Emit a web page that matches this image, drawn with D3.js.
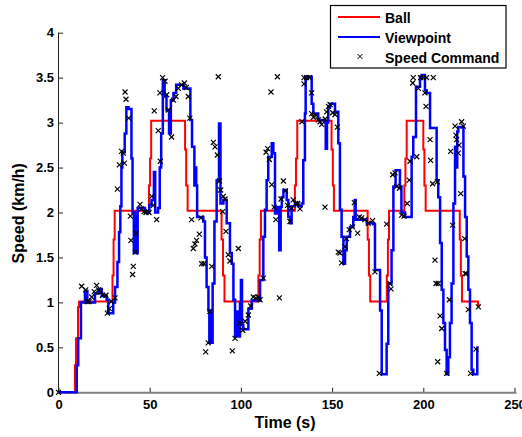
<!DOCTYPE html>
<html>
<head>
<meta charset="utf-8">
<script src="https://cdn.jsdelivr.net/npm/d3@7"></script>
<style>
  body { margin: 0; background: #fff; }
  svg { display: block; font-family: Arial, "Liberation Sans", sans-serif; font-weight: bold; }
</style>
</head>
<body>
<svg id="chart" width="522" height="437"></svg>
<script>
// Ball speed (step values, held from each time on)
const ballT = [0, 9.0, 9.6, 10.7, 11.3, 29.6, 30.2, 30.8, 49.6, 50.2, 50.8, 69.4, 70.0, 70.8, 89.4, 90.2, 91.0,
  109.6, 110.3, 111.0, 129.6, 130.2, 130.9, 149.7, 150.4, 151.0, 169.5, 170.2, 170.9, 180.0, 180.6, 181.2,
  189.6, 190.2, 190.9, 200.0, 200.6, 201.3, 220.0, 220.6, 221.2, 230.0, 230.4];
const ballV = [0, 0.3, 0.6, 0.95, 1.01, 1.3, 1.7, 2.02, 2.3, 2.6, 3.02, 2.7, 2.3, 2.02, 1.7, 1.3, 1.01,
  1.3, 1.7, 2.02, 2.3, 2.6, 3.02, 2.7, 2.3, 2.02, 1.7, 1.3, 1.01, 1.3, 1.7, 2.02,
  2.3, 2.6, 3.02, 2.7, 2.3, 2.02, 1.7, 1.3, 1.01, 0.97, 0.95];

// Viewpoint speed (step values)
const viewT = [0, 10.0, 10.8, 12.3, 14.5, 15.8, 20.0, 22.0, 23.7, 26.4, 27.3, 30.0, 31.0, 32.3, 33.2, 33.9, 34.5, 35.0,
  36.3, 37.2, 38.4, 40.0, 40.6, 41.3, 42.0, 42.5, 43.4, 47.4, 49.8, 51.0, 52.3, 53.0, 54.6, 55.5, 56.3, 57.2,
  58.2, 59.2, 60.6, 61.6, 63.0, 64.5, 68.5, 72.3, 73.2, 74.5, 75.0, 75.5, 76.0, 79.4, 80.3, 81.2, 82.2, 82.7,
  83.3, 83.7, 84.5, 85.5, 86.7, 88.0, 88.8, 90.4, 92.2, 94.0, 95.0, 95.9, 96.8, 97.7, 98.3, 99.5, 100.0, 100.6,
  101.3, 104.1, 105.9, 110.5, 112.3, 113.2, 114.1, 115.0, 116.9, 117.8, 118.7, 119.6, 121.0, 121.8, 122.4,
  123.3, 125.1, 126.0, 127.0, 127.8, 129.7, 131.5, 133.3, 134.2, 135.1, 135.5, 138.8, 139.7, 142.4, 146.1,
  146.5, 147.2, 147.9, 148.8, 151.6, 153.4, 154.3, 155.2, 156.2, 157.1, 158.0, 159.8, 161.6, 162.4, 162.9,
  169.0, 172.6, 173.5, 176.3, 177.2, 179.9, 180.8, 182.6, 183.6, 184.8, 187.2, 188.0, 190.0, 193.6, 194.5,
  196.0, 198.2, 199.1, 200.9, 201.8, 203.7, 207.3, 208.2, 209.2, 210.1, 211.0, 211.9, 212.8, 213.7, 214.6,
  215.5, 216.5, 217.4, 218.0, 218.6, 219.2, 222.0, 222.9, 223.8, 224.7, 225.6, 226.5, 227.4, 229.6];
const viewV = [0, 0.3, 0.6, 1.0, 1.13, 1.0, 1.1, 1.15, 1.07, 1.03, 0.88, 1.0, 1.17, 1.45, 1.78, 2.07, 2.5, 2.67,
  2.88, 3.17, 3.15, 2.6, 2.0, 1.55, 2.0, 1.55, 2.05, 2.0, 2.08, 2.14, 2.45, 2.0, 2.05, 2.5, 2.88, 3.47,
  3.29, 3.14, 2.88, 3.25, 3.33, 3.42, 3.38, 3.03, 2.73, 2.3, 2.5, 2.3, 1.95, 1.9, 1.5, 1.17, 0.91, 0.55,
  0.91, 0.55, 1.21, 1.9, 2.36, 2.99, 2.1, 2.14, 1.88, 1.55, 1.43, 1.03, 0.62, 0.9, 0.62, 1.0, 1.25, 0.75,
  0.7, 0.93, 1.02, 1.25, 1.73, 2.03, 2.36, 2.62, 2.77, 2.66, 1.99, 2.06, 1.58, 2.06, 2.17,
  2.25, 2.14, 1.95, 1.88, 2.07, 2.1, 2.07, 2.1, 2.58, 3.1, 3.51, 3.21, 3.1, 3.03, 3.0,
  2.71, 3.0, 3.17, 3.21, 3.12, 2.77, 2.03, 1.73, 1.43, 1.58, 1.73, 1.84, 1.95, 2.14, 1.92,
  1.88, 1.87, 1.36, 0.91, 0.2, 0.54, 1.21, 1.58, 2.29, 2.47, 2.29, 2.0, 1.95, 2.62, 2.84,
  3.4, 3.51, 3.53, 3.36, 3.33, 2.94, 2.36, 2.17, 1.66, 1.14, 0.77, 0.47, 0.2, 0.39, 0.77,
  1.21, 2.1, 2.73, 2.5, 2.9, 2.95, 2.4, 1.95, 1.51, 1.14, 0.77, 0.25, 0.2, 0.51];

// Speed commands (x markers)
const cmdT = [0, 12.7, 14.9, 15.8, 16.7, 18.2, 19.6, 20.9, 22.0, 23.0, 24.2, 26.0, 26.8, 27.9, 29.0, 31.0,
  32.3, 33.4, 34.6, 35.5, 36.1, 36.5, 37.0, 38.5, 39.4, 39.7, 41.0, 40.6, 42.5, 42.1, 44.7, 45.6, 46.9, 48.0,
  49.6, 51.1, 52.0, 52.5, 53.8, 54.7, 55.8, 55.6, 57.1, 58.4, 59.3, 60.2, 62.0, 63.0, 64.4, 65.7, 67.5, 69.0,
  70.0, 71.2, 72.0, 73.0, 73.9, 74.8, 75.7, 77.2, 78.1, 78.5, 79.8, 84.0, 80.7, 82.1, 83.0, 84.9, 85.8, 87.1,
  87.6, 88.2, 88.9, 90.4, 91.3, 90.0, 91.8, 93.1, 94.0, 95.3, 96.8, 98.6, 99.5, 101.0, 102.3, 104.1, 105.4,
  106.8, 108.2, 109.6, 110.5, 112.3, 113.8, 114.7, 115.6, 116.5, 116.9, 118.2, 119.2, 120.0, 121.1, 122.0,
  123.3, 124.4, 125.6, 126.9, 127.8, 128.7, 130.0, 131.1, 132.4, 133.5, 134.6, 134.6, 136.0, 137.5, 138.8,
  138.8, 139.8, 141.2, 142.4, 143.4, 144.3, 146.2, 147.0, 148.0, 148.9, 150.3, 151.6, 152.9, 146.1, 153.4,
  154.3, 155.2, 157.0, 157.9, 159.4, 161.2, 162.2, 164.0, 164.9, 166.2, 168.0, 169.9, 172.2, 173.5, 175.9,
  179.9, 181.7, 182.3, 183.2, 184.5, 185.4, 186.9, 188.1, 189.4, 191.2, 192.3, 192.7, 194.5, 194.2, 196.4,
  197.3, 198.5, 200.0, 200.9, 201.5, 201.8, 203.7, 204.0, 205.1, 205.5, 206.4, 207.0, 208.2, 209.2, 210.1,
  207.9, 207.7, 212.8, 214.3, 215.0, 216.1, 217.4, 217.9, 218.3, 219.2, 219.6, 220.5, 221.0, 221.9, 222.9,
  223.6, 222.7, 224.7, 225.9, 228.9, 230.2];
const cmdV = [0, 1.18, 1.14, 1.01, 1.01, 1.06, 1.12, 1.19, 1.14, 1.12, 1.08, 1.08, 0.88, 0.93, 1.01, 1.05,
  2.26, 2.53, 2.68, 2.66, 2.55, 3.34, 3.26, 3.05, 1.96, 1.69, 1.4, 1.31, 1.77, 1.56, 2.09, 2.04, 2.01, 2.0,
  2.0, 2.18, 2.08, 3.13, 1.92, 2.91, 2.57, 3.33, 3.5, 3.46, 3.31, 3.14, 2.84, 3.25, 3.29, 3.38, 3.42, 3.44,
  3.39, 3.29, 3.05, 1.92, 1.6, 1.65, 1.69, 1.76, 1.94, 1.43, 1.43, 1.4, 0.45, 0.55, 0.9, 2.78, 2.73, 2.64,
  3.51, 2.35, 2.25, 2.18, 2.15, 2.01, 1.79, 1.53, 1.46, 0.46, 0.6, 1.6, 0.77, 0.69, 0.79, 0.86, 0.96,
  1.06, 1.05, 1.06, 1.03, 1.27, 2.67, 2.71, 2.59, 3.34, 2.31, 2.06, 1.92, 3.51, 1.05, 2.15,
  2.35, 2.24, 2.08, 1.9, 2.05, 2.14, 2.1, 2.1, 2.04, 3.01, 3.5, 3.43, 3.5, 3.5, 3.33,
  3.1, 3.06, 3.08, 3.03, 3.01, 2.98, 3.04, 3.12, 3.18, 3.2, 3.11, 3.09, 2.95, 2.06, 1.56,
  1.55, 1.44, 1.62, 1.71, 1.81, 1.84, 2.11, 1.77, 1.95, 1.94, 1.92, 1.88, 1.91, 1.34, 0.21,
  1.87, 1.21, 1.15, 2.42, 2.44, 2.29, 2.27, 1.97, 1.96, 2.1, 2.36, 2.57, 3.5, 3.44, 2.62,
  3.38, 3.5, 3.5, 3.33, 3.18, 3.5, 2.81, 2.58, 2.32, 3.5, 1.47, 1.21, 1.21, 0.85, 0.71,
  0.34, 2.34, 0.21, 1.03, 2.68, 1.86, 2.96, 2.86, 2.81, 2.66, 2.75, 2.21, 3.01, 2.96, 1.32,
  1.32, 1.71, 0.92, 0.21, 0.48, 0.95];

const xTicks = [0, 50, 100, 150, 200, 250];
const yTicks = [0, 0.5, 1, 1.5, 2, 2.5, 3, 3.5, 4];

const svg = d3.select("#chart");
const plotLeft = 58.5, plotRight = 514.5, plotTop = 32.7, plotBottom = 392.3;

const x = d3.scaleLinear().domain([0, 250]).range([plotLeft, plotRight]);
const y = d3.scaleLinear().domain([0, 4]).range([plotBottom, plotTop]);

// axes, ticks pointing inward
const yAxis = d3.axisLeft(y).tickValues(yTicks).tickFormat(d3.format("")).tickSizeInner(-4.5).tickSizeOuter(0).tickPadding(4.5);
const xAxis = d3.axisBottom(x).tickValues(xTicks).tickFormat(d3.format("")).tickSizeInner(-4.5).tickSizeOuter(0).tickPadding(7.5);

const gy = svg.append("g").attr("transform", "translate(" + plotLeft + ",0)").call(yAxis);
const gx = svg.append("g").attr("transform", "translate(0," + plotBottom + ")").call(xAxis);
[gx, gy].forEach(function(g) {
  g.select(".domain").remove();
  g.selectAll(".tick line").attr("stroke", "#222");
  g.selectAll(".tick text").attr("fill", "#000").style("font-size", "13px").style("font-weight", "bold")
    .style("font-family", "Arial, 'Liberation Sans', sans-serif");
});
svg.append("line").attr("x1", plotLeft).attr("x2", plotLeft).attr("y1", plotTop).attr("y2", plotBottom + 0.5)
  .attr("stroke", "#222").attr("stroke-width", 1);
svg.append("line").attr("x1", plotLeft).attr("x2", plotRight + 2).attr("y1", plotBottom + 0.5).attr("y2", plotBottom + 0.5)
  .attr("stroke", "#808080").attr("stroke-width", 2);

// axis titles
svg.append("text").attr("transform", "translate(24," + ((plotTop + plotBottom) / 2 + 0.8) + ") rotate(-90)")
  .attr("text-anchor", "middle").style("font-size", "16px").text("Speed (km/h)");
svg.append("text").attr("x", 285).attr("y", 428).attr("text-anchor", "middle")
  .style("font-size", "16px").text("Time (s)");

// series
const stepLine = d3.line().x(function(d) { return x(d[0]); }).y(function(d) { return y(d[1]); }).curve(d3.curveStepAfter);
const ballData = d3.zip(ballT, ballV);
const viewData = d3.zip(viewT, viewV);
const cmdData = d3.zip(cmdT, cmdV);

svg.append("path").datum(ballData).attr("d", stepLine).attr("fill", "none")
  .attr("stroke", "#ff0000").attr("stroke-width", 2);
svg.append("path").datum(viewData).attr("d", stepLine).attr("fill", "none")
  .attr("stroke", "#0000ff").attr("stroke-width", 2.5);

const ms = 2.5;
const xMark = "M" + (-ms) + "," + (-ms) + "L" + ms + "," + ms + "M" + (-ms) + "," + ms + "L" + ms + "," + (-ms);
svg.append("g").selectAll("path").data(cmdData).enter().append("path")
  .attr("transform", function(d) { return "translate(" + x(d[0]) + "," + y(d[1]) + ")"; })
  .attr("d", xMark).attr("fill", "none").attr("stroke", "#000").attr("stroke-width", 1.2);

// legend
const lg = svg.append("g");
lg.append("rect").attr("x", 330.5).attr("y", 5.5).attr("width", 175.5).attr("height", 62.5)
  .attr("fill", "#fff").attr("stroke", "#000").attr("stroke-width", 1.2);
const legendItems = [
  { label: "Ball", color: "#ff0000", type: "line", y: 17 },
  { label: "Viewpoint", color: "#0000ff", type: "line", y: 37 },
  { label: "Speed Command", color: "#000", type: "mark", y: 56.5 }
];
legendItems.forEach(function(it) {
  if (it.type === "line") {
    lg.append("line").attr("x1", 338).attr("x2", 380).attr("y1", it.y).attr("y2", it.y)
      .attr("stroke", it.color).attr("stroke-width", 2);
  } else {
    lg.append("path").attr("transform", "translate(360," + it.y + ")").attr("d", xMark)
      .attr("fill", "none").attr("stroke", it.color).attr("stroke-width", 1);
  }
  lg.append("text").attr("x", 385).attr("y", it.y + 1.5).attr("dy", "0.35em")
    .style("font-size", "14px").text(it.label);
});
</script>
</body>
</html>
